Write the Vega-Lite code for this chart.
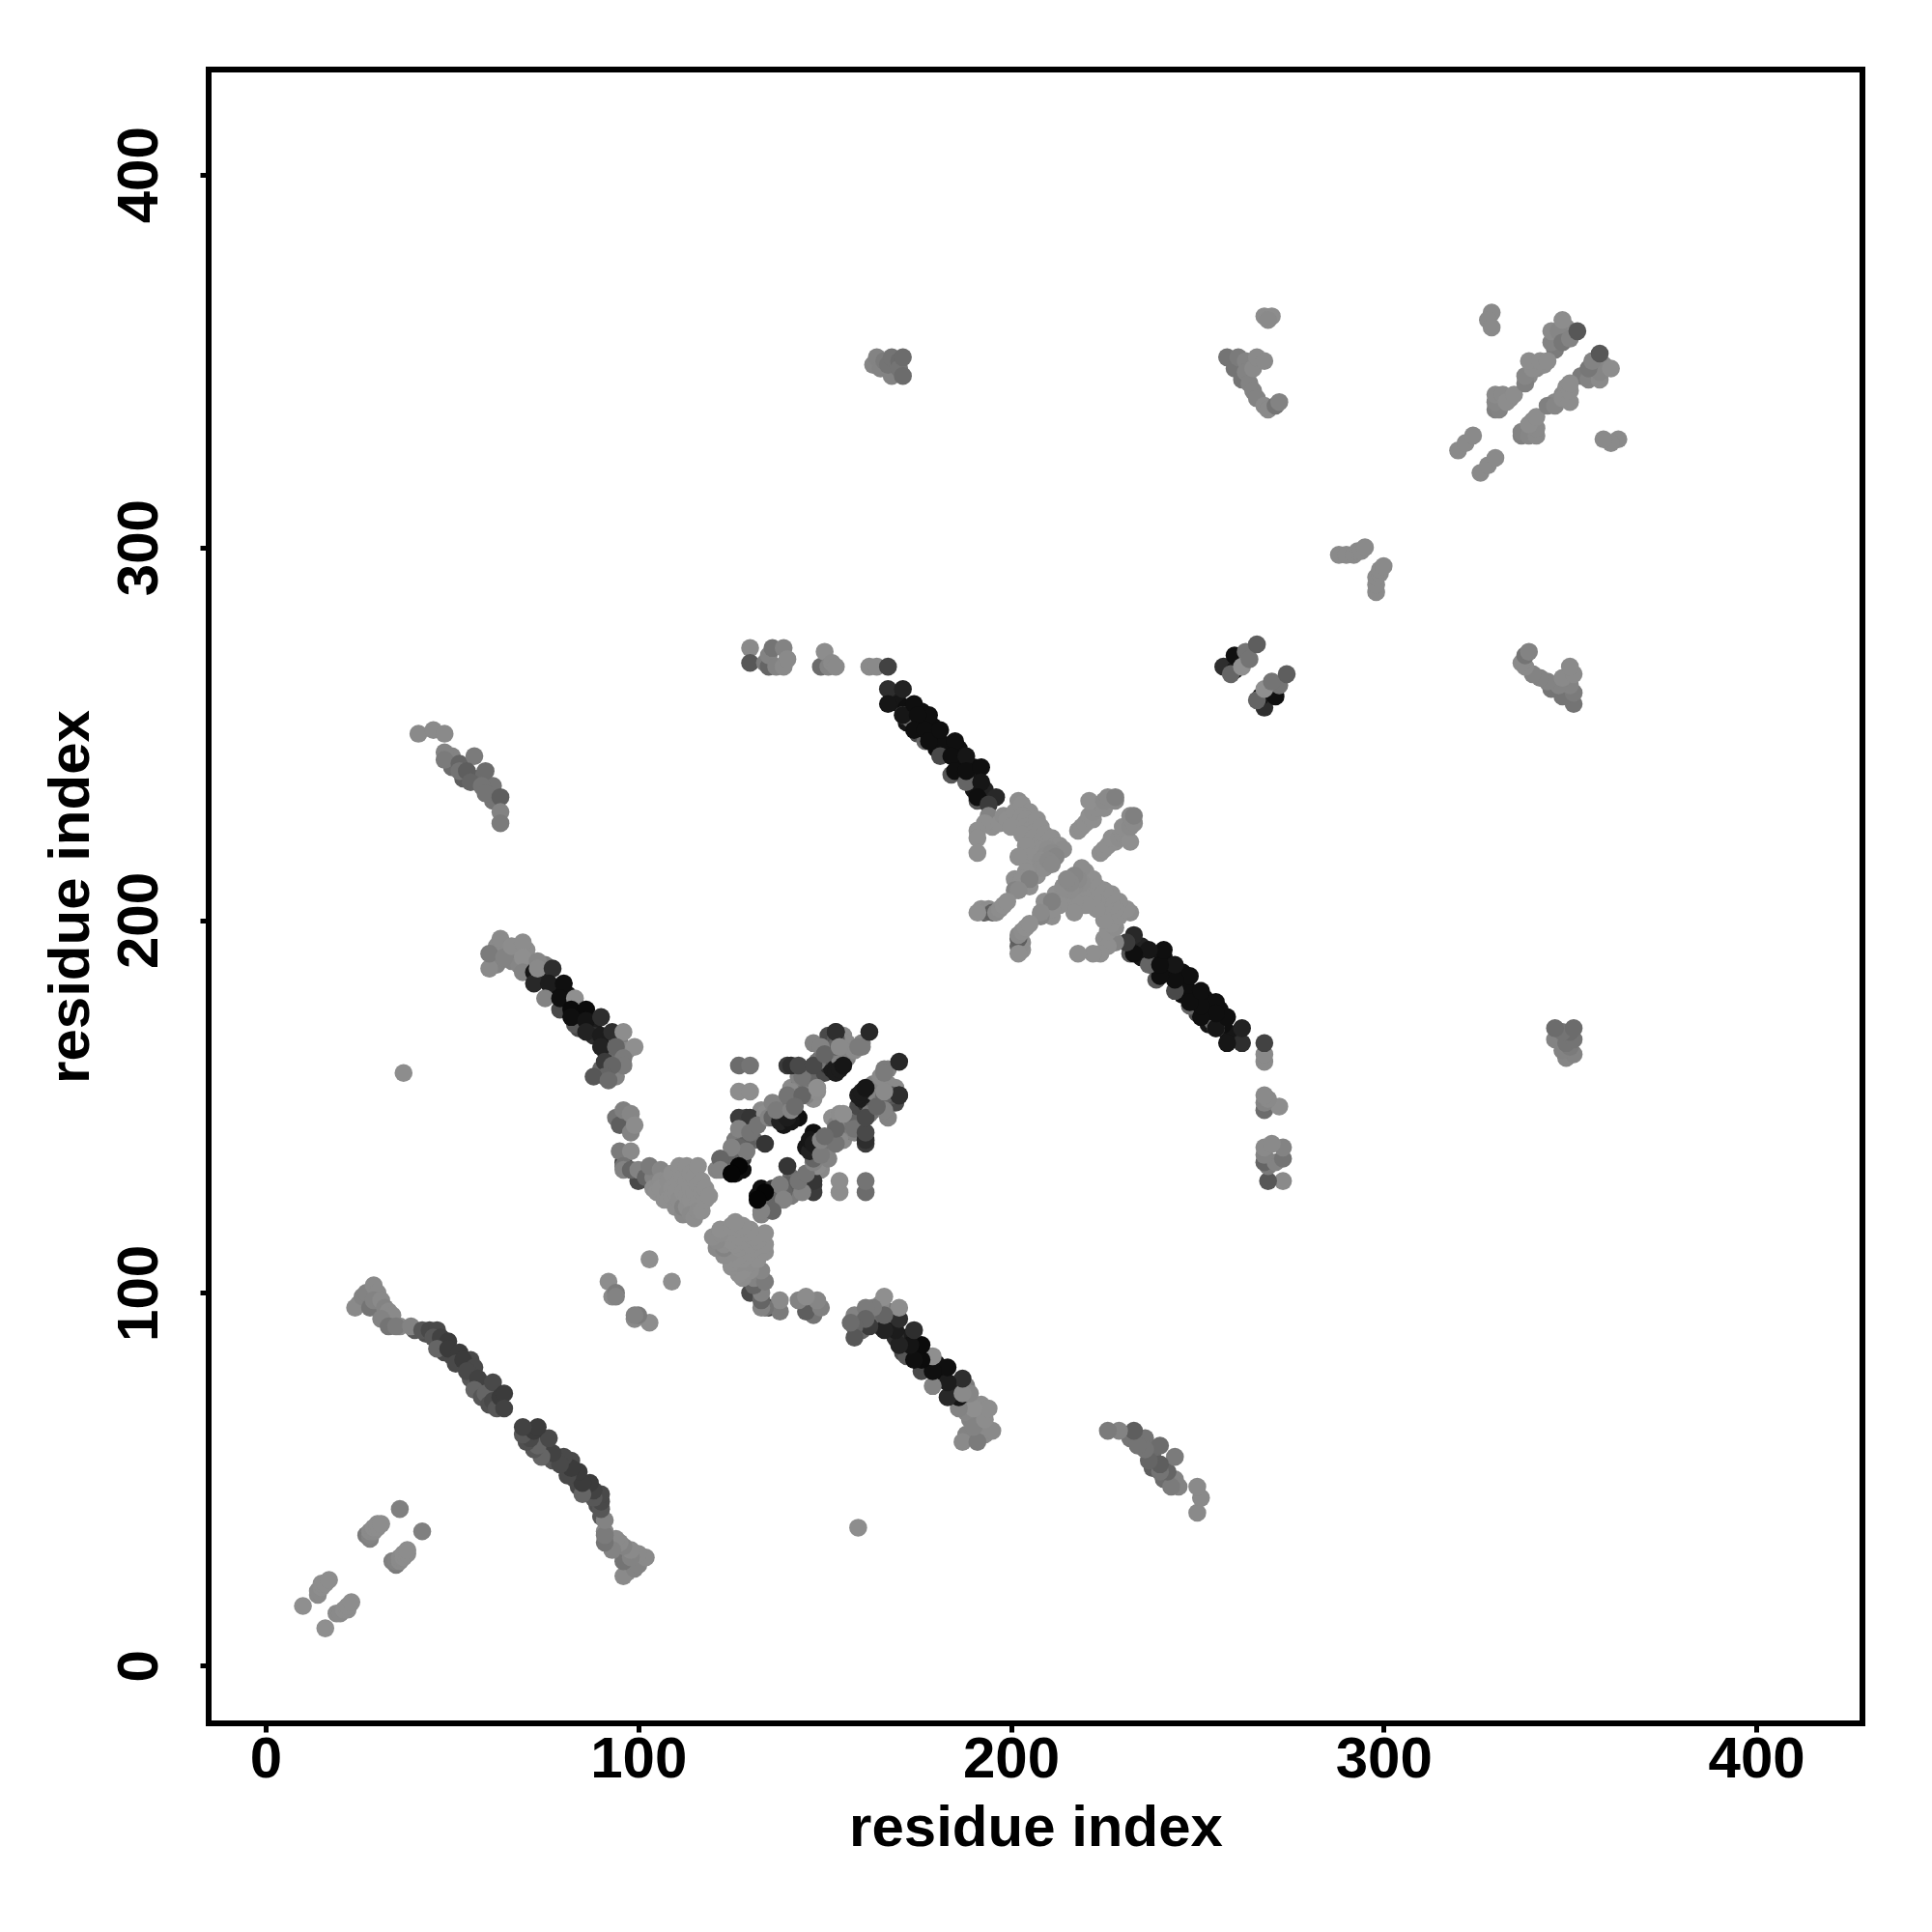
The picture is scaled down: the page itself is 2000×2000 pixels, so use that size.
{"$schema":"https://vega.github.io/schema/vega-lite/v6.json","width":1712,"height":1712,"autosize":"none","padding":{"left":216,"top":72,"right":72,"bottom":216},"background":"white","view":{"stroke":"#000000","strokeWidth":6,"fill":null},
"config":{"axis":{"grid":false,"domain":false,"tickColor":"#000000","tickWidth":5,"tickSize":9,"labelFont":"Liberation Sans","labelFontWeight":"bold","labelFontSize":60,"labelColor":"#000000","titleFont":"Liberation Sans","titleFontWeight":"bold","titleFontSize":60,"titleColor":"#000000"}},
"datasets":{"pairs":[
{"i":168,"j":260,"w":0.85},{"i":170,"j":258,"w":0.9},{"i":172,"j":257,"w":0.95},{"i":172,"j":253,"w":0.9},{"i":176,"j":253,"w":0.95},{"i":175,"j":250,"w":0.5},{"i":179,"j":252,"w":0.95},{"i":180,"j":248,"w":0.95},{"i":180,"j":246,"w":0.95},{"i":183,"j":246,"w":0.95},{"i":186,"j":246,"w":0.95},{"i":186,"j":242,"w":0.95},{"i":190,"j":241,"w":0.95},{"i":190,"j":238,"w":0.9},{"i":182,"j":247,"w":0.95},{"i":176,"j":256,"w":0.95},{"i":173,"j":254,"w":0.25},{"i":177,"j":248,"w":0.3},{"i":187,"j":239,"w":0.3},{"i":190,"j":235,"w":0.9},{"i":193,"j":235,"w":0.8},
{"i":74,"j":185,"w":0.8},{"i":78,"j":181,"w":0.95},{"i":81,"j":180,"w":0.9},{"i":80,"j":178,"w":0.3},{"i":84,"j":176,"w":0.95},{"i":85,"j":174,"w":0.95},{"i":84,"j":171,"w":0.5},{"i":88,"j":172,"w":0.85},{"i":88,"j":169,"w":0.7},{"i":92,"j":168,"w":0.8},{"i":91,"j":165,"w":0.7},{"i":94,"j":169,"w":0.25},{"i":95,"j":167,"w":0.15},{"i":94,"j":163,"w":0.25},{"i":93,"j":159,"w":0.25},{"i":90,"j":160,"w":0.3},{"i":94,"j":158,"w":0.1},{"i":97,"j":165,"w":0.05},{"i":71,"j":187,"w":0.3},{"i":75,"j":188,"w":0.15},{"i":70,"j":192,"w":0.03},{"i":65,"j":192,"w":0.03},{"i":62,"j":193,"w":0.05},{"i":62,"j":188,"w":0.1},{"i":66,"j":189,"w":0.1},{"i":68,"j":188,"w":0.08},
{"i":124,"j":135,"w":0.4},{"i":126,"j":136,"w":0.9},{"i":128,"j":133,"w":0.95},{"i":124,"j":133,"w":0.8},{"i":126,"j":132,"w":0.95},{"i":128,"j":136,"w":0.6},{"i":122,"j":134,"w":0.2},{"i":125,"j":136,"w":0.3},{"i":128,"j":140,"w":0.3},{"i":128,"j":142,"w":0.2},{"i":131,"j":141,"w":0.25},{"i":126,"j":141,"w":0.15},{"i":131,"j":145,"w":0.15},{"i":128,"j":145,"w":0.65},{"i":132,"j":147,"w":0.5},{"i":129,"j":146,"w":0.3},{"i":133,"j":149,"w":0.05},{"i":136,"j":149,"w":0.1},{"i":138,"j":150,"w":0.1},{"i":138,"j":147,"w":0.9},{"i":139,"j":145,"w":0.9},{"i":142,"j":148,"w":0.75},{"i":143,"j":147,"w":0.95},{"i":139,"j":151,"w":0.1},{"i":141,"j":155,"w":0.05},{"i":141,"j":152,"w":0.05},{"i":142,"j":154,"w":0.1},{"i":143,"j":155,"w":0.3},{"i":145,"j":155,"w":0.2},{"i":146,"j":153,"w":0.05},{"i":147,"j":152,"w":0.02},{"i":146,"j":160,"w":0.3},{"i":146,"j":157,"w":0.2},{"i":148,"j":158,"w":0.3},{"i":150,"j":159,"w":0.5},{"i":151,"j":161,"w":0.7},{"i":152,"j":160,"w":0.85},{"i":153,"j":159,"w":0.85},{"i":154,"j":163,"w":0.1},{"i":156,"j":163,"w":0.1},{"i":152,"j":167,"w":0.3},{"i":149,"j":163,"w":0.4},{"i":151,"j":165,"w":0.15},{"i":155,"j":169,"w":0.05},{"i":156,"j":167,"w":0.05},{"i":158,"j":165,"w":0.05},{"i":160,"j":167,"w":0.1},{"i":147,"j":167,"w":0.1},{"i":151,"j":169,"w":0.5},{"i":153,"j":168,"w":0.4},
{"i":154,"j":160,"w":0.85},{"i":144,"j":160,"w":0.3},{"i":140,"j":161,"w":0.6},{"i":145,"j":153,"w":0.1},{"i":148,"j":154,"w":0.03},{"i":140,"j":147,"w":0.85},{"i":136,"j":149,"w":0.1},{"i":129,"j":147,"w":0.6},{"i":153,"j":166,"w":0.3},{"i":153,"j":170,"w":0.7},{"i":160,"j":166,"w":0.15},{"i":148,"j":162,"w":0.2},{"i":143,"j":158,"w":0.1},{"i":141,"j":154,"w":0.05},{"i":141,"j":151,"w":0.2},{"i":134,"j":148,"w":0.05},{"i":129,"j":138,"w":0.1},{"i":129,"j":140,"w":0.35},{"i":122,"j":136,"w":0.3},{"i":121,"j":133,"w":0.1},
{"i":50,"j":244,"w":0.1},{"i":50,"j":241,"w":0.25},{"i":53,"j":238,"w":0.35},{"i":57,"j":238,"w":0.25},{"i":61,"j":232,"w":0.2},{"i":61,"j":236,"w":0.2},
{"i":48,"j":86,"w":0.55},{"i":48,"j":84,"w":0.5},{"i":50,"j":83,"w":0.5},{"i":55,"j":82,"w":0.5},{"i":55,"j":77,"w":0.4},{"i":58,"j":75,"w":0.4},{"i":60,"j":74,"w":0.5},{"i":43,"j":89,"w":0.45},{"i":40,"j":90,"w":0.4},{"i":25,"j":97,"w":0.05},{"i":27,"j":97,"w":0.15},{"i":30,"j":97,"w":0.1},{"i":32,"j":94,"w":0.1},{"i":36,"j":91,"w":0.05},
{"i":331,"j":339,"w":0.1},{"i":332,"j":339,"w":0.08},{"i":334,"j":340,"w":0.05},{"i":339,"j":346,"w":0.05},{"i":341,"j":348,"w":0.05},{"i":343,"j":349,"w":0.03},{"i":346,"j":353,"w":0.15},{"i":347,"j":356,"w":0.1},{"i":349,"j":358,"w":0.08},{"i":346,"j":356,"w":0.08},{"i":349,"j":359,"w":0.05},
{"i":10,"j":16,"w":0.02},{"i":14,"j":19,"w":0.05},{"i":14,"j":20,"w":0.05},{"i":15,"j":21,"w":0.03},{"i":15,"j":22,"w":0.03},{"i":16,"j":22,"w":0.03},{"i":17,"j":23,"w":0.03},
{"i":36,"j":42,"w":0.12},{"i":27,"j":35,"w":0.15},{"i":28,"j":34,"w":0.12},{"i":28,"j":35,"w":0.1},{"i":28,"j":36,"w":0.05},{"i":29,"j":36,"w":0.05},{"i":29,"j":37,"w":0.03},{"i":30,"j":37,"w":0.03},{"i":30,"j":38,"w":0.03},{"i":31,"j":38,"w":0.03},
{"i":37,"j":159,"w":0.03},
{"i":24,"j":96,"w":0.05},{"i":26,"j":99,"w":0.1},{"i":27,"j":100,"w":0.1},{"i":29,"j":102,"w":0.05},{"i":30,"j":100,"w":0.05},{"i":28,"j":96,"w":0.2},{"i":29,"j":98,"w":0.1},{"i":31,"j":98,"w":0.05},{"i":32,"j":96,"w":0.1},{"i":33,"j":95,"w":0.05},{"i":34,"j":94,"w":0.05},{"i":31,"j":93,"w":0.1},{"i":33,"j":91,"w":0.2},{"i":35,"j":91,"w":0.15},
{"i":39,"j":91,"w":0.1},{"i":42,"j":90,"w":0.4},{"i":44,"j":90,"w":0.5},{"i":46,"j":90,"w":0.5},{"i":45,"j":88,"w":0.4},{"i":47,"j":88,"w":0.55},{"i":49,"j":87,"w":0.6},{"i":46,"j":85,"w":0.3},{"i":49,"j":85,"w":0.6},{"i":52,"j":84,"w":0.6},{"i":51,"j":81,"w":0.5},{"i":53,"j":82,"w":0.6},{"i":56,"j":80,"w":0.5},{"i":54,"j":79,"w":0.5},{"i":57,"j":77,"w":0.55},{"i":56,"j":74,"w":0.3},{"i":58,"j":72,"w":0.4},{"i":59,"j":73,"w":0.3},{"i":60,"j":70,"w":0.45},{"i":61,"j":76,"w":0.5},{"i":61,"j":71,"w":0.5},{"i":62,"j":69,"w":0.4},{"i":63,"j":72,"w":0.6},{"i":64,"j":73,"w":0.6},{"i":64,"j":69,"w":0.55},
{"i":92,"j":103,"w":0.03},{"i":93,"j":99,"w":0.05},{"i":94,"j":100,"w":0.15},{"i":94,"j":99,"w":0.1},{"i":103,"j":109,"w":0.02},
{"i":96,"j":135,"w":0.6},{"i":100,"j":130,"w":0.5},{"i":95,"j":138,"w":0.15},{"i":98,"j":138,"w":0.05},{"i":96,"j":134,"w":0.2},{"i":96,"j":133,"w":0.1},{"i":98,"j":133,"w":0.3},{"i":100,"j":133,"w":0.1},{"i":102,"j":131,"w":0.3},{"i":104,"j":131,"w":0.1},{"i":103,"j":134,"w":0.15},{"i":104,"j":128,"w":0.03},{"i":106,"j":133,"w":0.08},{"i":105,"j":127,"w":0.02},{"i":106,"j":130,"w":0.03},{"i":106,"j":128,"w":0.02},{"i":107,"j":125,"w":0.02},{"i":108,"j":127,"w":0.03},{"i":108,"j":130,"w":0.03},{"i":108,"j":125,"w":0.02},{"i":109,"j":132,"w":0.02},{"i":109,"j":128,"w":0.02},{"i":109,"j":126,"w":0.02},{"i":110,"j":127,"w":0.02},{"i":110,"j":123,"w":0.03},{"i":111,"j":134,"w":0.02},{"i":111,"j":130,"w":0.02},{"i":111,"j":125,"w":0.03},{"i":112,"j":127,"w":0.02},{"i":112,"j":131,"w":0.02},{"i":112,"j":121,"w":0.06},{"i":112,"j":123,"w":0.1},{"i":113,"j":123,"w":0.03},{"i":113,"j":126,"w":0.02},{"i":113,"j":130,"w":0.02},{"i":113,"j":134,"w":0.02},{"i":114,"j":132,"w":0.02},{"i":114,"j":128,"w":0.02},{"i":114,"j":125,"w":0.02},{"i":114,"j":121,"w":0.05},{"i":115,"j":127,"w":0.02},{"i":115,"j":131,"w":0.02},{"i":115,"j":120,"w":0.03},{"i":116,"j":134,"w":0.02},{"i":116,"j":129,"w":0.02},{"i":116,"j":124,"w":0.02},{"i":116,"j":122,"w":0.03},{"i":117,"j":127,"w":0.02},{"i":117,"j":130,"w":0.02},{"i":117,"j":122,"w":0.02},{"i":118,"j":125,"w":0.02},{"i":118,"j":128,"w":0.02},{"i":119,"j":126,"w":0.02},
{"i":94,"j":147,"w":0.2},{"i":95,"j":145,"w":0.35},{"i":96,"j":149,"w":0.12},{"i":98,"j":148,"w":0.08},{"i":98,"j":143,"w":0.1},{"i":99,"j":145,"w":0.04},
{"i":60,"j":187,"w":0.05},{"i":60,"j":191,"w":0.15},{"i":63,"j":195,"w":0.05},{"i":64,"j":190,"w":0.1},{"i":66,"j":193,"w":0.03},{"i":69,"j":194,"w":0.03},{"i":69,"j":190,"w":0.02},{"i":69,"j":186,"w":0.1},{"i":72,"j":186,"w":0.9},{"i":72,"j":183,"w":0.75},{"i":73,"j":189,"w":0.08},{"i":73,"j":187,"w":0.05},{"i":77,"j":187,"w":0.7},{"i":76,"j":183,"w":0.85},{"i":80,"j":183,"w":0.95},{"i":75,"j":179,"w":0.1},{"i":79,"j":176,"w":0.5},{"i":79,"j":179,"w":0.95},{"i":83,"j":179,"w":0.02},{"i":82,"j":176,"w":0.97},{"i":86,"j":176,"w":0.97},{"i":83,"j":172,"w":0.4},{"i":82,"j":174,"w":0.95},{"i":86,"j":173,"w":0.92},{"i":86,"j":170,"w":0.8},{"i":90,"j":169,"w":0.85},{"i":90,"j":174,"w":0.7},{"i":93,"j":170,"w":0.7},{"i":90,"j":166,"w":0.8},{"i":96,"j":170,"w":0.03},{"i":99,"j":166,"w":0.02},{"i":94,"j":166,"w":0.3},{"i":91,"j":162,"w":0.6},{"i":96,"j":163,"w":0.15},{"i":96,"j":161,"w":0.15},{"i":93,"j":161,"w":0.3},{"i":91,"j":158,"w":0.3},{"i":88,"j":158,"w":0.4},{"i":92,"j":157,"w":0.25},
{"i":127,"j":161,"w":0.25},{"i":130,"j":161,"w":0.2},{"i":127,"j":154,"w":0.03},{"i":130,"j":154,"w":0.03},{"i":127,"j":147,"w":0.6},{"i":130,"j":147,"w":0.65},{"i":134,"j":148,"w":0.03},{"i":127,"j":144,"w":0.1},{"i":130,"j":143,"w":0.2},{"i":134,"j":140,"w":0.65},{"i":127,"j":139,"w":0.3},{"i":129,"j":138,"w":0.15},{"i":125,"j":139,"w":0.1},{"i":122,"j":136,"w":0.3},{"i":122,"j":133,"w":0.1},{"i":127,"j":134,"w":1},{"i":125,"j":132,"w":1},
{"i":132,"j":145,"w":0.2},{"i":135,"j":147,"w":0.1},{"i":136,"j":147,"w":0.3},{"i":138,"j":146,"w":0.8},{"i":141,"j":146,"w":0.9},{"i":140,"j":147,"w":0.85},{"i":136,"j":151,"w":0.1},{"i":137,"j":149,"w":0.15},{"i":141,"j":149,"w":0.1},{"i":140,"j":153,"w":0.2},{"i":144,"j":153,"w":0.3},{"i":142,"j":150,"w":0.25},{"i":148,"j":155,"w":0.02},{"i":144,"j":158,"w":0.2},{"i":141,"j":161,"w":0.7},{"i":143,"j":161,"w":0.5},{"i":147,"j":161,"w":0.5},{"i":149,"j":166,"w":0.1},{"i":153,"j":170,"w":0.7},{"i":150,"j":164,"w":0.3},{"i":155,"j":161,"w":0.9},{"i":154,"j":166,"w":0.05},{"i":159,"j":166,"w":0.15},{"i":162,"j":170,"w":0.75},
{"i":41,"j":250,"w":0.05},{"i":45,"j":251,"w":0.05},{"i":48,"j":250,"w":0.05},{"i":48,"j":245,"w":0.1},{"i":48,"j":243,"w":0.15},{"i":52,"j":242,"w":0.3},{"i":56,"j":244,"w":0.15},{"i":52,"j":240,"w":0.2},{"i":54,"j":240,"w":0.35},{"i":55,"j":237,"w":0.3},{"i":59,"j":240,"w":0.25},{"i":58,"j":236,"w":0.2},{"i":59,"j":234,"w":0.2},{"i":63,"j":233,"w":0.35},{"i":63,"j":229,"w":0.1},{"i":63,"j":226,"w":0.15},
{"i":162,"j":268,"w":0.05},{"i":164,"j":268,"w":0.05},{"i":167,"j":268,"w":0.55},{"i":167,"j":262,"w":0.7},{"i":171,"j":262,"w":0.8},{"i":167,"j":258,"w":0.9},{"i":171,"j":255,"w":0.2},{"i":171,"j":255,"w":0.9},{"i":174,"j":258,"w":0.95},{"i":178,"j":255,"w":0.95},{"i":175,"j":255,"w":0.95},{"i":174,"j":251,"w":0.95},{"i":177,"j":251,"w":0.95},{"i":178,"j":248,"w":0.95},{"i":181,"j":251,"w":0.95},{"i":181,"j":244,"w":0.5},{"i":185,"j":248,"w":0.95},{"i":184,"j":244,"w":0.95},{"i":188,"j":244,"w":0.9},{"i":184,"j":239,"w":0.4},{"i":185,"j":240,"w":0.95},{"i":188,"j":237,"w":0.3},{"i":188,"j":240,"w":0.95},{"i":192,"j":241,"w":0.95},{"i":192,"j":237,"w":0.9},{"i":191,"j":232,"w":0.4},{"i":191,"j":233,"w":0.95},{"i":196,"j":233,"w":0.75},{"i":194,"j":231,"w":0.6},
{"i":202,"j":232,"w":0.03},{"i":194,"j":228,"w":0.1},{"i":195,"j":225,"w":0.02},{"i":193,"j":226,"w":0.02},{"i":191,"j":224,"w":0.02},{"i":191,"j":222,"w":0.02},{"i":191,"j":218,"w":0.02},{"i":197,"j":226,"w":0.02},{"i":198,"j":228,"w":0.03},{"i":199,"j":227,"w":0.02},{"i":201,"j":226,"w":0.02},{"i":201,"j":229,"w":0.02},{"i":203,"j":231,"w":0.02},{"i":205,"j":229,"w":0.02},{"i":203,"j":228,"w":0.02},{"i":204,"j":227,"w":0.02},{"i":200,"j":225,"w":0.02},{"i":204,"j":225,"w":0.02},{"i":206,"j":225,"w":0.02},{"i":207,"j":227,"w":0.02},{"i":208,"j":225,"w":0.02},{"i":205,"j":223,"w":0.02},{"i":203,"j":223,"w":0.02},{"i":206,"j":222,"w":0.02},{"i":208,"j":221,"w":0.02},{"i":209,"j":223,"w":0.02},{"i":210,"j":221,"w":0.02},{"i":211,"j":222,"w":0.02},{"i":212,"j":220,"w":0.02},{"i":213,"j":220,"w":0.02},{"i":207,"j":219,"w":0.02},{"i":210,"j":219,"w":0.03},{"i":214,"j":219,"w":0.04},{"i":209,"j":217,"w":0.04},{"i":211,"j":218,"w":0.05},{"i":212,"j":217,"w":0.08},{"i":204,"j":220,"w":0.02},{"i":205,"j":217,"w":0.02},{"i":206,"j":214,"w":0.02},{"i":207,"j":212,"w":0.02},{"i":208,"j":216,"w":0.03},{"i":208,"j":214,"w":0.03},{"i":209,"j":214,"w":0.03},{"i":210,"j":216,"w":0.06},{"i":211,"j":215,"w":0.06},{"i":202,"j":217,"w":0.02},{"i":204,"j":213,"w":0.02},{"i":201,"j":211,"w":0.02},{"i":203,"j":211,"w":0.02},{"i":203,"j":209,"w":0.02},{"i":205,"j":209,"w":0.02},{"i":205,"j":211,"w":0.12},{"i":201,"j":208,"w":0.1},{"i":202,"j":208,"w":0.05},{"i":192,"j":203,"w":0.02},{"i":193,"j":202,"w":0.3},{"i":194,"j":203,"w":0.03},{"i":195,"j":202,"w":0.35},{"i":191,"j":202,"w":0.02},{"i":196,"j":202,"w":0.05},{"i":197,"j":203,"w":0.03},{"i":198,"j":204,"w":0.02},{"i":199,"j":205,"w":0.02},
{"i":218,"j":224,"w":0.02},{"i":219,"j":225,"w":0.02},{"i":220,"j":226,"w":0.02},{"i":221,"j":228,"w":0.02},{"i":222,"j":227,"w":0.02},{"i":222,"j":229,"w":0.03},{"i":223,"j":230,"w":0.03},{"i":224,"j":231,"w":0.03},{"i":225,"j":230,"w":0.03},{"i":221,"j":232,"w":0.02},{"i":225,"j":232,"w":0.05},{"i":226,"j":233,"w":0.05},{"i":228,"j":232,"w":0.05},{"i":228,"j":233,"w":0.12},
{"i":130,"j":273,"w":0.05},{"i":130,"j":269,"w":0.4},{"i":134,"j":269,"w":0.15},{"i":135,"j":268,"w":0.3},{"i":135,"j":271,"w":0.1},{"i":136,"j":273,"w":0.2},{"i":139,"j":273,"w":0.1},{"i":137,"j":268,"w":0.1},{"i":139,"j":268,"w":0.05},{"i":140,"j":270,"w":0.05},{"i":149,"j":268,"w":0.25},{"i":150,"j":272,"w":0.03},{"i":151,"j":268,"w":0.1},{"i":152,"j":269,"w":0.05},{"i":153,"j":268,"w":0.05},
{"i":163,"j":349,"w":0.08},{"i":164,"j":351,"w":0.1},{"i":165,"j":348,"w":0.1},{"i":166,"j":350,"w":0.15},{"i":168,"j":346,"w":0.1},{"i":167,"j":349,"w":0.2},{"i":168,"j":351,"w":0.2},{"i":170,"j":350,"w":0.25},{"i":170,"j":348,"w":0.2},{"i":171,"j":351,"w":0.25},{"i":171,"j":346,"w":0.25},
{"i":258,"j":351,"w":0.2},{"i":260,"j":348,"w":0.2},{"i":261,"j":351,"w":0.15},{"i":262,"j":345,"w":0.2},{"i":263,"j":350,"w":0.1},{"i":263,"j":347,"w":0.1},{"i":264,"j":344,"w":0.1},{"i":265,"j":348,"w":0.05},{"i":265,"j":342,"w":0.1},{"i":266,"j":351,"w":0.05},{"i":266,"j":340,"w":0.1},{"i":268,"j":350,"w":0.05},{"i":268,"j":338,"w":0.05},{"i":269,"j":337,"w":0.05},{"i":271,"j":338,"w":0.2},{"i":272,"j":339,"w":0.1},
{"i":257,"j":268,"w":0.7},{"i":260,"j":267,"w":0.9},{"i":259,"j":266,"w":0.3},{"i":260,"j":271,"w":0.95},{"i":263,"j":272,"w":0.2},{"i":262,"j":268,"w":0.02},{"i":264,"j":270,"w":0.2},{"i":266,"j":274,"w":0.35},
{"i":288,"j":298,"w":0.05},{"i":290,"j":298,"w":0.05},{"i":292,"j":298,"w":0.05},{"i":293,"j":299,"w":0.05},{"i":294,"j":299,"w":0.05},{"i":295,"j":300,"w":0.05},
{"i":320,"j":326,"w":0.05},{"i":322,"j":328,"w":0.05},{"i":324,"j":330,"w":0.05},{"i":329,"j":363,"w":0.05},{"i":328,"j":361,"w":0.05},{"i":329,"j":359,"w":0.05},
{"i":330,"j":337,"w":0.12},{"i":331,"j":337,"w":0.1},{"i":330,"j":339,"w":0.08},{"i":330,"j":341,"w":0.05},{"i":332,"j":341,"w":0.05},{"i":333,"j":339,"w":0.03},{"i":335,"j":341,"w":0.03},
{"i":338,"j":344,"w":0.12},{"i":338,"j":346,"w":0.08},{"i":340,"j":348,"w":0.03},{"i":339,"j":350,"w":0.03},{"i":342,"j":350,"w":0.03},{"i":344,"j":350,"w":0.03},
{"i":345,"j":355,"w":0.1},{"i":345,"j":358,"w":0.05},{"i":347,"j":358,"w":0.08},{"i":348,"j":355,"w":0.18},{"i":348,"j":361,"w":0.03},{"i":350,"j":356,"w":0.1},{"i":352,"j":358,"w":0.4}
],"single":[{"i":268,"j":362,"w":0.03},{"i":270,"j":362,"w":0.03},{"i":269,"j":361,"w":0.05}]},
"layer":[
{"data":{"name":"pairs"},"mark":{"type":"circle","size":345,"opacity":1},"encoding":{"x":{"field":"i","type":"quantitative","title":"residue index","scale":{"domain":[-15.3,428.5],"nice":false,"zero":false},"axis":{"values":[0,100,200,300,400],"labelPadding":-1,"titlePadding":12}},"y":{"field":"j","type":"quantitative","title":"residue index","scale":{"domain":[-15.5,428.2],"nice":false,"zero":false},"axis":{"values":[0,100,200,300,400],"labelAngle":-90,"labelAlign":"center","labelBaseline":"bottom","labelPadding":32,"titlePadding":10}},"color":{"field":"w","type":"quantitative","scale":{"domain":[0,1],"range":["#929292","#050505"]},"legend":null}}},
{"data":{"name":"pairs"},"mark":{"type":"circle","size":345,"opacity":1},"encoding":{"x":{"field":"j","type":"quantitative","title":"residue index"},"y":{"field":"i","type":"quantitative","title":"residue index"},"color":{"field":"w","type":"quantitative","legend":null}}},
{"data":{"name":"single"},"mark":{"type":"circle","size":345,"opacity":1},"encoding":{"x":{"field":"i","type":"quantitative","title":"residue index"},"y":{"field":"j","type":"quantitative","title":"residue index"},"color":{"field":"w","type":"quantitative","legend":null}}}
]}
